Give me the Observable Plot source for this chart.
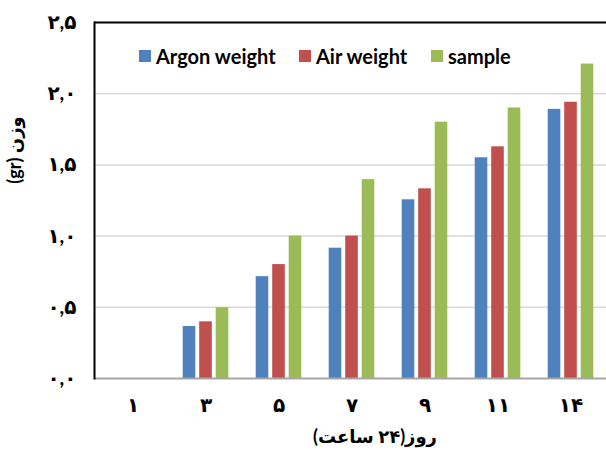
<!DOCTYPE html>
<html>
<head>
<meta charset="utf-8">
<script src="https://cdn.jsdelivr.net/npm/d3@7"></script>
<script src="https://cdn.jsdelivr.net/npm/@observablehq/plot@0.6"></script>
<style>
  body { margin: 0; background: #fff; }
  #wrap { position: relative; width: 606px; height: 450px; }
  .lg { position: absolute; font-family: Lato, "Open Sans", sans-serif; font-weight: 700; font-size: 20px; color: #000; display: flex; align-items: center; white-space: nowrap; line-height: 20px; }
  .lg i { display: inline-block; width: 12px; height: 12px; margin-right: 5px; }
</style>
</head>
<body>
<div id="wrap"></div>
<script>
// ---- data ----
const days = ["۱", "۳", "۵", "۷", "۹", "۱۱", "۱۴"];
const argonWeight = [0, 0.365, 0.715, 0.915, 1.255, 1.55, 1.89];
const airWeight = [0, 0.398, 0.80, 1.0, 1.332, 1.627, 1.94];
const sampleWeight = [0, 0.497, 1.0, 1.397, 1.80, 1.90, 2.208];
const seriesNames = ["Argon weight", "Air weight", "sample"];
const seriesColors = ["#4f81bd", "#c0504d", "#9bbb59"];
const yTicks = [0, 0.5, 1, 1.5, 2, 2.5];
const yLabel = "\u202Bوزن (gr)\u202C";
const xLabel = "\u202Bروز(۲۴ ساعت)\u202C";

const allSeries = [argonWeight, airWeight, sampleWeight];
const fa = "۰۱۲۳۴۵۶۷۸۹";
const toFa = s => String(s).replace(/[0-9]/g, d => fa[+d]);
const fontFam = 'Lato, "DejaVu Sans", sans-serif';

const offsets = [-16.5, 0, 16.5];
const barMarks = allSeries.map((vals, si) =>
  Plot.barY(days.map((d, i) => ({day: d, value: vals[i]})), {
    x: "day", y: "value", fill: seriesColors[si],
    dx: offsets[si], insetLeft: 30.2, insetRight: 30.2
  })
);

const chart = Plot.plot({
  width: 606, height: 450,
  marginLeft: 94, marginRight: -2, marginTop: 22, marginBottom: 72,
  style: {fontFamily: fontFam, fontSize: "20px", fontWeight: "bold", color: "#000", background: "#fff"},
  x: {domain: days, padding: 0, tickSize: 0, tickPadding: 19, label: null},
  y: {domain: [0, 2.5], ticks: yTicks, tickSize: 0, tickPadding: 18, label: null,
      tickFormat: v => toFa(v.toFixed(1)).replace(".", ",")},
  marks: [
    Plot.ruleY(yTicks.slice(1, -1), {stroke: "#d9d9d9", strokeWidth: 1.5}),
    ...barMarks,
    Plot.ruleY([0], {stroke: "#a6a6a6", strokeWidth: 2}),
    Plot.ruleY([2.5], {stroke: "#000", strokeWidth: 2}),
    Plot.frame({anchor: "left", stroke: "#000", strokeWidth: 2})
  ]
});

const wrap = document.getElementById("wrap");
wrap.appendChild(chart);

const svg = d3.select(chart);
svg.append("text")
  .attr("transform", "translate(16,150) rotate(-90)")
  .attr("text-anchor", "middle").attr("dominant-baseline", "middle")
  .style("font-family", fontFam).style("font-size", "18px").style("font-weight", "bold")
  .text(yLabel);
svg.append("text")
  .attr("x", 375).attr("y", 438)
  .attr("text-anchor", "middle").attr("dominant-baseline", "middle")
  .style("font-family", fontFam).style("font-size", "18px").style("font-weight", "bold")
  .text(xLabel);

const legendX = [139, 299, 431];
seriesNames.forEach((name, i) => {
  const el = document.createElement("div");
  el.className = "lg";
  el.style.left = legendX[i] + "px";
  el.style.top = "46px";
  el.innerHTML = `<i style="background:${seriesColors[i]}"></i>${name}`;
  wrap.appendChild(el);
});
</script>
</body>
</html>
